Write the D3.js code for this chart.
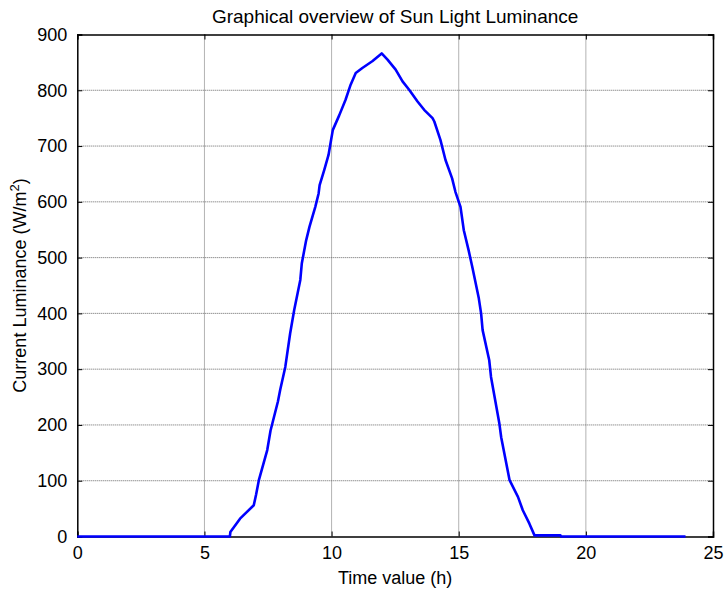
<!DOCTYPE html>
<html>
<head>
<meta charset="utf-8">
<script src="https://cdn.jsdelivr.net/npm/d3@7"></script>
<style>
body { margin: 0; background: #fff; }
text { font-family: "Liberation Sans", Arial, sans-serif; fill: #000; }
</style>
</head>
<body>
<div id="chart"></div>
<script>
var width = 725;
var height = 590;
var margin = {top: 34.5, right: 12, bottom: 53.5, left: 77.3};

// hours of the day
var timeValues = [0, 6.0, 6.02, 6.4, 6.94, 7.03, 7.14, 7.47, 7.6, 7.89, 7.98, 8.18, 8.37, 8.53, 8.77, 8.83,
  9.0, 9.13, 9.36, 9.49, 9.53, 9.71, 9.88, 9.98, 10.05, 10.3, 10.55, 10.75, 10.95, 11.21, 11.6, 11.97,
  12.2, 12.52, 12.79, 13.05, 13.38, 13.64, 13.97, 14.04, 14.28, 14.48, 14.74, 14.87, 15.07, 15.2,
  15.39, 15.53, 15.79, 15.88, 15.94, 16.2, 16.27, 16.6, 16.67, 17.0, 17.33, 17.52, 17.78, 17.98,
  19.0, 19.02, 23.92];
// luminance W/m^2
var luminance = [0, 0, 8, 32, 56, 75, 101, 155, 190, 242, 263, 304, 364, 406, 460, 490,
  531, 555, 591, 615, 630, 657, 684, 711, 729, 755, 783, 810, 831, 840, 852, 866,
  855, 837, 816, 801, 780, 765, 750, 744, 711, 675, 642, 618, 591, 549,
  513, 484, 427, 400, 370, 316, 286, 202, 178, 101, 71, 47, 23, 2,
  2, 0, 0];
var xTicks = [0, 5, 10, 15, 20, 25];
var yTicks = [0, 100, 200, 300, 400, 500, 600, 700, 800, 900];

var w = width - margin.left - margin.right;
var h = height - margin.top - margin.bottom;

var svg = d3.select("#chart").append("svg")
  .attr("width", width).attr("height", height);

var g = svg.append("g")
  .attr("transform", "translate(" + margin.left + "," + margin.top + ")");

var x = d3.scaleLinear().domain([0, 25]).range([0, w]);
var y = d3.scaleLinear().domain([0, 900]).range([h, 0]);

// grid lines (dotted, like matlab)
g.append("g").selectAll("line").data(xTicks.slice(1, -1)).enter().append("line")
  .attr("x1", function(d){ return x(d); }).attr("x2", function(d){ return x(d); })
  .attr("y1", 0).attr("y2", h)
  .attr("stroke", "#666").attr("stroke-width", 1).attr("stroke-dasharray", "1,1");
g.append("g").selectAll("line").data(yTicks.slice(1, -1)).enter().append("line")
  .attr("y1", function(d){ return y(d); }).attr("y2", function(d){ return y(d); })
  .attr("x1", 0).attr("x2", w)
  .attr("stroke", "#666").attr("stroke-width", 1).attr("stroke-dasharray", "1,1");

// axes with inward ticks
var xAxis = g.append("g").attr("transform", "translate(0," + h + ")")
  .call(d3.axisBottom(x).tickValues(xTicks).tickSize(-5).tickPadding(10));
var yAxis = g.append("g")
  .call(d3.axisLeft(y).tickValues(yTicks).tickSize(-5).tickPadding(10));
var xTop = g.append("g")
  .call(d3.axisTop(x).tickValues(xTicks).tickSize(-5).tickFormat(""));
var yRight = g.append("g").attr("transform", "translate(" + w + ",0)")
  .call(d3.axisRight(y).tickValues(yTicks).tickSize(-5).tickFormat(""));

[xAxis, yAxis, xTop, yRight].forEach(function(a){
  a.select(".domain").attr("stroke", "#000").attr("stroke-width", 1.5);
  a.selectAll(".tick line").attr("stroke", "#000");
  a.selectAll(".tick text")
    .style("font-family", "'Liberation Sans', Arial, sans-serif")
    .style("font-size", "18px").attr("fill", "#000");
});

// the data line
var line = d3.line()
  .x(function(d, i){ return x(timeValues[i]); })
  .y(function(d){ return y(d); });

g.append("path")
  .datum(luminance)
  .attr("fill", "none")
  .attr("stroke", "#0000ff")
  .attr("stroke-width", 2.6)
  .attr("stroke-linejoin", "round")
  .attr("d", line);

// labels
svg.append("text")
  .attr("x", margin.left + w / 2).attr("y", 23)
  .attr("text-anchor", "middle")
  .style("font-size", "19px")
  .text("Graphical overview of Sun Light Luminance");

svg.append("text")
  .attr("x", margin.left + w / 2).attr("y", 584)
  .attr("text-anchor", "middle")
  .style("font-size", "18px")
  .text("Time value (h)");

var yl = svg.append("text")
  .attr("transform", "translate(26," + (margin.top + h / 2) + ") rotate(-90)")
  .attr("text-anchor", "middle")
  .style("font-size", "18px");
yl.append("tspan").text("Current Luminance (W/m");
yl.append("tspan").attr("dy", -7).style("font-size", "13px").text("2");
yl.append("tspan").attr("dy", 7).text(")");
</script>
</body>
</html>
